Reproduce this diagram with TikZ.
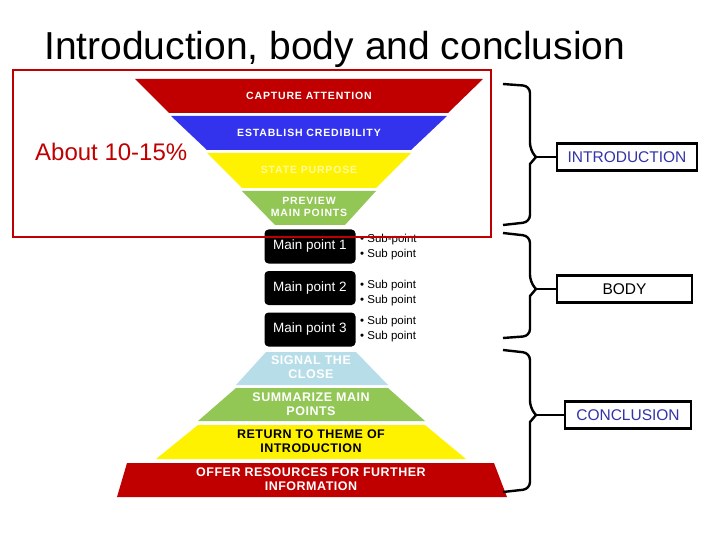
\documentclass[tikz,border=0pt]{standalone}
\usepackage{fontspec}
\setmainfont{Liberation Sans}
\begin{document}
\begin{tikzpicture}[x=1pt,y=-1pt,
  bt/.style={font=\bfseries\fontsize{10.5}{12}\selectfont\addfontfeatures{LetterSpace=8},align=center,text=white},
  bb/.style={font=\bfseries\fontsize{12.5}{13.5}\selectfont\addfontfeatures{LetterSpace=4},align=center,text=white},
  mp/.style={fill=black,rounded corners=4pt,text=white,font=\fontsize{13.5}{15}\selectfont,minimum width=91pt,minimum height=34pt,inner sep=0pt},
  sp/.style={font=\fontsize{11.5}{15}\selectfont,align=left,anchor=west,inner sep=0pt},
  lbl/.style={draw=black,line width=2.2pt,font=\fontsize{15.5}{17}\selectfont,minimum height=27pt,inner sep=2pt},
  brace/.style={line width=2.4pt,rounded corners=7pt}]
\definecolor{cred}{HTML}{C00000}
\definecolor{cblue}{HTML}{3333EE}
\definecolor{cgreen}{HTML}{92C755}
\definecolor{clblue}{HTML}{B7DDE8}
\definecolor{tblue}{HTML}{3333AA}
\useasboundingbox (0,0) rectangle (720,540);
\fill[white] (0,0) rectangle (720,540);
\node[anchor=base west,font=\fontsize{39}{44}\selectfont,inner sep=0pt] (title) at (44,60) {Introduction, body and conclusion};
% top funnel
\fill[cred] (135,79) -- (483,79) -- (448,113) -- (169,113) -- cycle;
\fill[cblue] (171,116) -- (447,116) -- (411,150) -- (207,150) -- cycle;
\fill[yellow] (207,153) -- (411,153) -- (376,188) -- (242,188) -- cycle;
\fill[cgreen] (242,191) -- (376,191) -- (345,225) -- (275,225) -- cycle;
\node[bt] (t1) at (309,96) {CAPTURE ATTENTION};
\node[bt] (t2) at (309,133) {ESTABLISH CREDIBILITY};
\node[bt,text=yellow!40] (t3) at (309,170) {STATE PURPOSE};
\node[bt] (t4) at (309,207) {PREVIEW\\MAIN POINTS};
% main points
\node[mp] (m1) at (310,246.5) {Main point 1};
\node[mp] (m2) at (310,288) {Main point 2};
\node[mp] (m3) at (310,329.5) {Main point 3};
\node[sp] (s1) at (360,247) {\textbullet\ Sub-point\\\textbullet\ Sub point};
\node[sp] (s2) at (360,293) {\textbullet\ Sub point\\\textbullet\ Sub point};
\node[sp] (s3) at (360,329) {\textbullet\ Sub point\\\textbullet\ Sub point};
% red frame
\draw[cred,line width=2.5pt] (13,70) rectangle (491,237);
\node[anchor=west,text=cred,font=\fontsize{24}{28}\selectfont,inner sep=0pt] (about) at (35,152) {About 10-15\%};
% bottom pyramid
\fill[clblue] (266,352) -- (356,352) -- (388,385) -- (236,385) -- cycle;
\fill[cgreen] (236,388) -- (388,388) -- (425,421) -- (198,421) -- cycle;
\fill[yellow] (198,425) -- (425,425) -- (466,459) -- (156,459) -- cycle;
\fill[cred] (127,463) -- (494,463) -- (507,497) -- (117,497) -- cycle;
\node[bb] (b1) at (311,367) {SIGNAL THE\\CLOSE};
\node[bb] (b2) at (311,404) {SUMMARIZE MAIN\\POINTS};
\node[bb,text=black] (b3) at (311,441) {RETURN TO THEME OF\\INTRODUCTION};
\node[bb] (b4) at (311,479) {OFFER RESOURCES FOR FURTHER\\INFORMATION};
% labels
\node[lbl,text=tblue,minimum width=140pt] (intro) at (627,157) {INTRODUCTION};
\node[lbl,minimum width=135pt] (body) at (624.5,289) {BODY};
\node[lbl,text=tblue,minimum width=126pt] (concl) at (628,415) {CONCLUSION};
% braces
\coordinate (ti) at (536,157);
\coordinate (tb) at (536,289);
\coordinate (tc) at (536,415);
\draw[brace] (503,84) -- (530,86) -- (530,150) [sharp corners] -- (ti) -- (530,164) [rounded corners=7pt] -- (530,222) -- (503,225);
\draw[brace] (503,233) -- (530,236) -- (530,282) [sharp corners] -- (tb) -- (530,296) [rounded corners=7pt] -- (530,336) -- (503,338);
\draw[brace] (503,350) -- (530,353) -- (530,408) [sharp corners] -- (tc) -- (530,422) [rounded corners=7pt] -- (530,489) -- (503,492);
\draw[line width=2.4pt] (ti) -- (intro.west);
\draw[line width=2.4pt] (tb) -- (body.west);
\draw[line width=2.4pt] (tc) -- (concl.west);
\end{tikzpicture}
\end{document}
